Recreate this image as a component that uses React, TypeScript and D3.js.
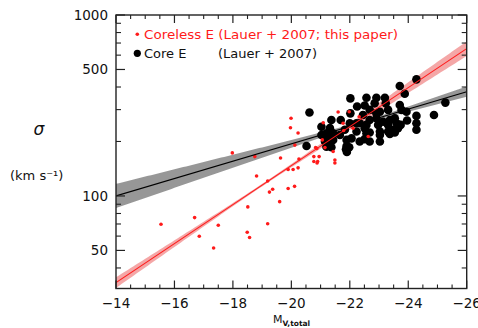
import React from "react";
import * as d3 from "d3";

// Absolute V magnitude (x) and central velocity dispersion in km/s (y)
const corelessPoints: [number, number][] = [
  [-15.54, 69.8], [-16.69, 75.9], [-16.85, 59.9], [-17.5, 68.9], [-17.34, 51.6],
  [-18.81, 129], [-18.51, 87], [-18.49, 63], [-18.57, 58.9], [-19.19, 70.2],
  [-19.19, 121], [-19.25, 105], [-19.36, 109], [-19.6, 93], [-19.89, 110],
  [-19.89, 140], [-20.06, 140], [-20.11, 113], [-20.23, 143], [-20.77, 155],
  [-20.9, 155], [-21.49, 152], [-19.99, 269], [-19.97, 238], [-20.23, 223],
  [-20.12, 191], [-17.98, 173], [-18.75, 165], [-19.63, 162], [-20.26, 160],
  [-20.77, 165], [-20.87, 183], [-21.6, 291], [-21.98, 292], [-21.09, 254],
  [-21.77, 252], [-22.32, 274], [-22.63, 213], [-20.83, 185], [-21.15, 185],
  [-21.49, 158], [-20.95, 165], [-21.43, 176], [-21.79, 230], [-22.11, 237],
  [-21.06, 204], [-20.88, 152],
];

const corePoints: [number, number][] = [
  [-20.62, 289], [-24.28, 441], [-23.71, 405], [-23.88, 367], [-25.27, 328],
  [-24.88, 280], [-22.02, 346], [-22.57, 349], [-22.91, 349], [-23.2, 349],
  [-22.25, 312], [-22.51, 316], [-22.85, 325], [-23.23, 325], [-23.71, 318],
  [-23.77, 299], [-22.02, 286], [-22.45, 280], [-22.91, 286], [-23.31, 299],
  [-21.37, 263], [-21.69, 263], [-21.03, 241], [-21.32, 237], [-22.23, 252],
  [-22.57, 247], [-23.14, 257], [-23.54, 269], [-23.94, 292], [-23.96, 261],
  [-24.28, 277], [-24.28, 252], [-24.28, 232], [-23.03, 227], [-23.31, 247],
  [-23.6, 252], [-23.65, 237], [-23.03, 217], [-23.31, 227], [-23.54, 224],
  [-22.57, 222], [-22.51, 206], [-22.68, 224], [-22.97, 247], [-22.23, 227],
  [-22.0, 252], [-21.83, 232], [-21.43, 222], [-21.66, 217], [-22.06, 208],
  [-22.34, 252], [-22.68, 263], [-22.91, 269], [-22.68, 299], [-23.03, 292],
  [-23.37, 220], [-23.74, 247], [-23.5, 232], [-22.51, 237], [-22.34, 200],
  [-22.68, 200], [-23.03, 200], [-21.03, 217], [-21.2, 222], [-21.26, 208],
  [-21.43, 204], [-21.15, 200], [-21.32, 196], [-20.52, 189], [-21.2, 187],
  [-21.37, 186], [-21.89, 204], [-21.89, 189], [-21.87, 181], [-21.98, 186],
  [-23.37, 263], [-21.9, 175],
];

// log10(sigma) = a + b * (M + 20)
const corelessFit = [2.1675, -0.10775];
const coreFit = [2.288, -0.048];
// Confidence half-width in dex: sqrt(w0^2 + (k * (M - M0))^2), as [w0, k, M0]
const corelessBand = [0.007, 0.0057, -19];
const coreBand = [0.008, 0.0078, -22.5];

const xMajorTicks = [-14, -16, -18, -20, -22, -24, -26];
const xMinorTicks = d3.range(-14, -26.01, -0.5).filter((v) => v % 2 !== 0);
const yMajorTicks = [50, 100, 500, 1000];
const yMinorTicks = [40, 60, 70, 80, 90, 200, 300, 400, 600, 700, 800, 900];
const xDomain = [-14, -26];
const yDomain = [30.8, 1000];

const W = 478;
const H = 328;
const M = { left: 116, right: 466.7, top: 15, bottom: 288.5 };
const FONT = "'DejaVu Sans', sans-serif";

export default function App() {
  const x = d3.scaleLinear().domain(xDomain).range([M.left, M.right]);
  const y = d3.scaleLog().domain(yDomain).range([M.bottom, M.top]);

  const fitLog = (fit: number[], m: number) => fit[0] + fit[1] * (m + 20);
  const halfW = (b: number[], m: number) =>
    Math.sqrt(b[0] * b[0] + Math.pow(b[1] * (m - b[2]), 2));

  const ms = d3.range(-14, -26.001, -0.1);

  const bandPath = (fit: number[], band: number[]) =>
    d3
      .area<number>()
      .x((m) => x(m))
      .y0((m) => y(Math.pow(10, fitLog(fit, m) - halfW(band, m))))
      .y1((m) => y(Math.pow(10, fitLog(fit, m) + halfW(band, m))))(ms) || "";

  const linePath = (fit: number[]) =>
    d3
      .line<number>()
      .x((m) => x(m))
      .y((m) => y(Math.pow(10, fitLog(fit, m))))(xDomain) || "";

  const axisColor = "#222";

  return (
    <svg
      width={W}
      height={H}
      style={{ position: "absolute", left: 0, top: 0, background: "#fff" }}
      fontFamily={FONT}
    >
      <defs>
        <clipPath id="plot">
          <rect x={M.left} y={M.top} width={M.right - M.left} height={M.bottom - M.top} />
        </clipPath>
      </defs>

      <g clipPath="url(#plot)">
        <path d={bandPath(coreFit, coreBand)} fill="#8c8c8c" opacity={0.9} />
        <path d={bandPath(corelessFit, corelessBand)} fill="#f08a8a" opacity={0.75} />

        {corePoints.map(([m, s], i) => (
          <circle key={"c" + i} cx={x(m)} cy={y(s)} r={4.3} fill="#000" />
        ))}
        {corelessPoints.map(([m, s], i) => (
          <circle key={"r" + i} cx={x(m)} cy={y(s)} r={1.8} fill="#ff1a1a" />
        ))}

        <path d={linePath(coreFit)} stroke="#000" strokeWidth={1.2} fill="none" />
        <path d={linePath(corelessFit)} stroke="#ff1a1a" strokeWidth={1.1} fill="none" />
      </g>

      {/* frame */}
      <rect
        x={M.left}
        y={M.top}
        width={M.right - M.left}
        height={M.bottom - M.top}
        fill="none"
        stroke={axisColor}
        strokeWidth={1.4}
      />

      {/* x ticks, bottom and top, pointing inward */}
      {xMajorTicks.map((v) => (
        <g key={"xM" + v}>
          <line x1={x(v)} x2={x(v)} y1={M.bottom} y2={M.bottom - 8} stroke={axisColor} strokeWidth={1.2} />
          <line x1={x(v)} x2={x(v)} y1={M.top} y2={M.top + 8} stroke={axisColor} strokeWidth={1.2} />
          <text x={x(v)} y={308} textAnchor="middle" fontSize={13.5} fill="#111">
            {"\u2212" + Math.abs(v)}
          </text>
        </g>
      ))}
      {xMinorTicks.map((v) => (
        <g key={"xm" + v}>
          <line x1={x(v)} x2={x(v)} y1={M.bottom} y2={M.bottom - 4} stroke={axisColor} strokeWidth={1.1} />
          <line x1={x(v)} x2={x(v)} y1={M.top} y2={M.top + 4} stroke={axisColor} strokeWidth={1.1} />
        </g>
      ))}

      {/* y ticks, left and right, pointing inward */}
      {yMajorTicks.map((v) => (
        <g key={"yM" + v}>
          <line x1={M.left} x2={M.left + 9} y1={y(v)} y2={y(v)} stroke={axisColor} strokeWidth={1.2} />
          <line x1={M.right} x2={M.right - 9} y1={y(v)} y2={y(v)} stroke={axisColor} strokeWidth={1.2} />
          <text x={108} y={y(v) + 5} textAnchor="end" fontSize={13.5} fill="#111">
            {v}
          </text>
        </g>
      ))}
      {yMinorTicks.map((v) => (
        <g key={"ym" + v}>
          <line x1={M.left} x2={M.left + 5} y1={y(v)} y2={y(v)} stroke={axisColor} strokeWidth={1.1} />
          <line x1={M.right} x2={M.right - 5} y1={y(v)} y2={y(v)} stroke={axisColor} strokeWidth={1.1} />
        </g>
      ))}

      {/* axis titles */}
      <text x={39} y={135} textAnchor="middle" fontSize={17} fontStyle="italic" fill="#111">
        σ
      </text>
      <text x={10} y={180} fontSize={13} fill="#111">
        (km s⁻¹)
      </text>
      <text x={273} y={323} fontSize={11} fill="#111">
        M
        <tspan fontSize={7.5} fontWeight="bold" dy={3}>
          V,total
        </tspan>
      </text>

      {/* legend */}
      <circle cx={137.3} cy={34.3} r={1.8} fill="#ff1a1a" />
      <text x={144} y={39} fontSize={13} fill="#ff1a1a" textLength={254} lengthAdjust="spacingAndGlyphs">
        Coreless E (Lauer + 2007; this paper)
      </text>
      <circle cx={137.3} cy={53.3} r={3.6} fill="#000" />
      <text x={144} y={58} fontSize={13} fill="#111">
        Core E
      </text>
      <text x={218} y={58} fontSize={13} fill="#111">
        (Lauer + 2007)
      </text>
    </svg>
  );
}
